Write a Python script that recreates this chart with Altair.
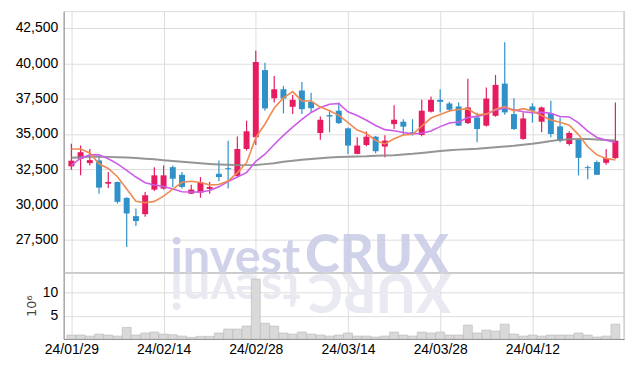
import altair as alt
import pandas as pd

dates = ["24/01/29", "24/01/30", "24/01/31", "24/02/01", "24/02/02", "24/02/05", "24/02/06", "24/02/07",
         "24/02/08", "24/02/13", "24/02/14", "24/02/15", "24/02/16", "24/02/19", "24/02/20", "24/02/21",
         "24/02/22", "24/02/23", "24/02/26", "24/02/27", "24/02/28", "24/02/29", "24/03/04", "24/03/05",
         "24/03/06", "24/03/07", "24/03/08", "24/03/11", "24/03/12", "24/03/13", "24/03/14", "24/03/15",
         "24/03/18", "24/03/19", "24/03/20", "24/03/21", "24/03/22", "24/03/25", "24/03/26", "24/03/27",
         "24/03/28", "24/03/29", "24/04/01", "24/04/02", "24/04/03", "24/04/04", "24/04/05", "24/04/08",
         "24/04/09", "24/04/11", "24/04/12", "24/04/15", "24/04/16", "24/04/17", "24/04/18", "24/04/19",
         "24/04/22", "24/04/23", "24/04/24", "24/04/25"]

opens = [32700, 33230, 32930, 33120, 31470, 31590, 30460, 29170, 29310, 31050,
         31120, 32640, 32100, 30760, 30840, 31100, 32170, 32570, 32010, 33930,
         34760, 39520, 37520, 38160, 36920, 38070, 37270, 35060, 36330, 36640,
         35390, 33580, 34210, 34800, 34100, 35690, 35860, 35110, 34920, 36570,
         37410, 37150, 36940, 35760, 36160, 35580, 36280, 38560, 36400, 34640,
         36940, 35860, 36470, 35530, 34280, 34570, 32640, 33000, 32950, 33280]
highs = [34300, 34170, 33930, 33420, 32290, 31620, 30500, 29710, 30880, 32640,
         32760, 32760, 32290, 31400, 31940, 31590, 33120, 34520, 34810, 35930,
         40880, 40040, 39100, 38400, 37760, 38680, 37920, 36230, 36640, 37220,
         35450, 34760, 35160, 34850, 34900, 37030, 36040, 36040, 37410, 37640,
         38160, 37270, 37220, 38910, 36500, 38280, 39170, 41490, 37520, 36520,
         37170, 36940, 37340, 36160, 35180, 34600, 32760, 33120, 33930, 37220]
lows = [32450, 32060, 32760, 30760, 31170, 30060, 26990, 28470, 29120, 30950,
        31050, 31240, 31120, 30740, 30480, 30760, 31640, 31120, 31990, 33820,
        34210, 36640, 37220, 36450, 36400, 36400, 36520, 34590, 35110, 35690,
        33580, 33560, 34120, 33630, 33350, 35340, 34920, 34880, 34830, 36520,
        36520, 36570, 35560, 35690, 34400, 35530, 36210, 36350, 35270, 34590,
        35810, 35110, 34760, 34400, 34170, 32060, 31780, 32090, 32810, 33230]
closes = [33100, 33700, 33140, 31190, 31590, 30180, 29360, 28820, 30650, 32060,
          32060, 31820, 31240, 31050, 31590, 31240, 31940, 32500, 33930, 35180,
          40090, 36800, 38160, 37500, 37410, 36750, 36820, 36000, 36230, 35760,
          34170, 34170, 34800, 33770, 34520, 36000, 35510, 35040, 36640, 37410,
          37270, 36710, 35580, 36870, 35340, 37500, 38470, 36520, 35340, 36090,
          36640, 36870, 34990, 34520, 35060, 33300, 32570, 32100, 33280, 34520]
volume_m = [0.86, 0.86, 0.64, 1.07, 0.86, 0.64, 2.5, 0.86, 1.29, 1.5,
            1.07, 0.93, 0.64, 0.36, 0.57, 0.57, 1.29, 2.14, 2.14, 2.8,
            12.9, 3.4, 2.8, 1.29, 1.07, 1.5, 1.07, 0.86, 0.64, 0.86,
            1.29, 0.64, 0.64, 0.43, 0.64, 1.5, 0.86, 0.64, 1.5, 1.29,
            1.5, 0.86, 0.86, 3.0, 1.29, 1.93, 1.71, 3.2, 1.07, 0.64,
            0.86, 0.64, 0.86, 0.86, 0.86, 1.29, 0.86, 0.43, 0.64, 3.2]
ma5 = [33932, 33932, 33650, 32877, 32544, 31960, 31092, 30228, 30120, 30214,
       30590, 31082, 31566, 31646, 31552, 31388, 31412, 31664, 32240, 32958,
       34728, 35700, 36832, 37546, 37992, 37324, 37328, 36896, 36642, 36312,
       35796, 35266, 35026, 34534, 34286, 34652, 34920, 34968, 35542, 36120,
       36374, 36614, 36722, 36768, 36354, 36400, 36752, 36940, 36634, 36784,
       36612, 36292, 35986, 35822, 35616, 34948, 34088, 33510, 33262, 33154]
ma10 = [32764, 33278, 33510, 33510, 33230, 32877, 32412, 31940, 31540, 31379,
        31275, 31087, 30897, 30883, 30883, 30989, 31247, 31615, 31943, 32255,
        33058, 33556, 34248, 34893, 35475, 36026, 36514, 36864, 37094, 37152,
        36560, 36297, 35961, 35588, 35299, 35224, 35093, 34997, 35038, 35203,
        35513, 35767, 35845, 36155, 36237, 36387, 36683, 36831, 36701, 36569,
        36506, 36522, 36463, 36228, 36200, 35780, 35190, 34748, 34542, 34385]
ma60 = [33299, 33348, 33369, 33383, 33369, 33348, 33327, 33292, 33242, 33193,
        33137, 33080, 33024, 32968, 32912, 32869, 32834, 32806, 32785, 32785,
        32799, 32855, 32925, 33031, 33102, 33165, 33221, 33278, 33327, 33362,
        33383, 33397, 33418, 33454, 33468, 33489, 33538, 33587, 33651, 33714,
        33778, 33841, 33883, 33911, 33946, 33996, 34052, 34101, 34151, 34228,
        34298, 34390, 34489, 34573, 34615, 34636, 34629, 34601, 34559, 34524]
price_ticks = [27500, 30000, 32500, 35000, 37500, 40000, 42500]
date_tick_idx = [0, 10, 20, 30, 40, 50]
vol_ticks = [5, 10]

df = pd.DataFrame({"i": list(range(len(dates))), "date": dates, "open": opens, "high": highs,
                   "low": lows, "close": closes, "vol": volume_m,
                   "ma5": ma5, "ma10": ma10, "ma60": ma60})

RED = "#e61b60"
BLUE = "#2f91c8"
FONT = "DejaVu Sans Condensed"
WM_COLOR = "#c7cbe6"
W = 564
H_MAIN = 263
H_VOL = 67

xscale = alt.Scale(domain=[-0.3, 59.4], nice=False, zero=False)
label_expr = "[" + ",".join("'" + d + "'" for d in dates) + "][datum.value]"

x_main = alt.X("i:Q", scale=xscale, title=None,
               axis=alt.Axis(values=date_tick_idx, labels=False, ticks=False, grid=True))
yscale = alt.Scale(domain=[25182, 43697], nice=False, zero=False)
yaxis = alt.Axis(values=price_ticks, labelExpr="format(datum.value, ',')", ticks=False,
                 labelPadding=6, grid=True, labelFontSize=14)


def ym(field):
    return alt.Y(field + ":Q", scale=yscale, axis=yaxis, title=None)


color_cond = alt.condition("datum.close >= datum.open", alt.value(RED), alt.value(BLUE))
base = alt.Chart(df)

wm1 = alt.Chart(pd.DataFrame({"t": ["invest"]})).mark_text(
    font="Lato", fontSize=49, fontWeight="bold", color=WM_COLOR, align="right",
    baseline="alphabetic", opacity=0.85).encode(x=alt.value(238), y=alt.value(264), text="t:N")
wm2 = alt.Chart(pd.DataFrame({"t": ["CRUX"]})).mark_text(
    font="Lato", fontSize=53, fontWeight=900, color=WM_COLOR, align="left",
    baseline="alphabetic", opacity=0.85).encode(x=alt.value(243), y=alt.value(264), text="t:N")

wick = base.mark_rule(strokeWidth=1.2).encode(x=x_main, y=ym("low"), y2="high:Q", color=color_cond)
body = base.mark_bar(size=6).encode(x=x_main, y=ym("open"), y2="close:Q", color=color_cond)
l60 = base.mark_line(color="#8a8a8a", strokeWidth=2, opacity=0.9).encode(x=x_main, y=ym("ma60"))
l10 = base.mark_line(color="#cc5be8", strokeWidth=1.6).encode(x=x_main, y=ym("ma10"))
l5 = base.mark_line(color="#ef8a52", strokeWidth=1.6).encode(x=x_main, y=ym("ma5"))
rb1 = alt.Chart(pd.DataFrame({"t": [0]})).mark_rule(color="#d0d0d0", strokeWidth=1.5).encode(
    x=alt.value(W), y=alt.value(0), y2=alt.value(H_MAIN))

main = alt.layer(wm1, wm2, wick, body, l60, l10, l5, rb1).properties(width=W, height=H_MAIN)

x_vol = alt.X("i:Q", scale=xscale, title=None,
              axis=alt.Axis(values=date_tick_idx, labelExpr=label_expr, ticks=False, grid=True,
                            labelPadding=4, labelFontSize=14))
rf1 = alt.Chart(pd.DataFrame({"t": ["tsevni"]})).mark_text(
    font="Lato", fontSize=49, fontWeight="bold", color="#e8e9f1", align="center", angle=180,
    baseline="alphabetic").encode(x=alt.value(173), y=alt.value(2), text="t:N")
rf2 = alt.Chart(pd.DataFrame({"t": ["XURC"]})).mark_text(
    font="Lato", fontSize=53, fontWeight=900, color="#e8e9f1", align="center", angle=180,
    baseline="alphabetic").encode(x=alt.value(318), y=alt.value(2), text="t:N")
vbars = base.mark_bar(size=9, color="#d9d9d9", stroke="#b8b8b8", strokeWidth=0.6).encode(
    x=x_vol,
    y=alt.Y("vol:Q", scale=alt.Scale(domain=[0, 14.35], nice=False),
            axis=alt.Axis(values=vol_ticks, ticks=False, labelPadding=6, grid=True,
                          labelFontSize=14,
                          title="10⁶", titleFontWeight="normal", titleFontSize=13,
                          titleFont="DejaVu Sans", titleColor="#444", titlePadding=4)))
rb2 = alt.Chart(pd.DataFrame({"t": [0]})).mark_rule(color="#d0d0d0", strokeWidth=1.5).encode(
    x=alt.value(W), y=alt.value(0), y2=alt.value(H_VOL))
vol = alt.layer(rf1, rf2, vbars, rb2).properties(width=W, height=H_VOL)

chart = alt.vconcat(main, vol, spacing=0, bounds="flush").properties(
    padding={"left": 6, "top": 0, "right": 5, "bottom": 0}
).configure_view(stroke=None).configure_axis(
    labelFont=FONT, labelFontSize=13, labelFontWeight="bold", labelColor="#2a2a2a",
    gridColor="#c6c6dc", gridDash=[2, 3], gridWidth=1,
    domainColor="#cfcfcf", domainWidth=1.5
).configure(background="white")

chart.save("out.html", embed_options={"renderer": "svg", "actions": False})
